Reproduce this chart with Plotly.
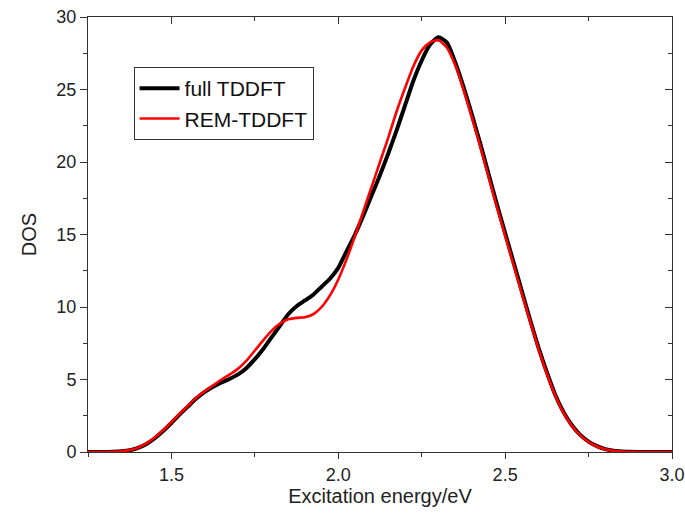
import plotly.graph_objects as go

energy = [1.250, 1.275, 1.300, 1.325, 1.350, 1.375, 1.400, 1.425, 1.450, 1.475,
          1.500, 1.525, 1.550, 1.575, 1.600, 1.625, 1.650, 1.675, 1.700, 1.725,
          1.750, 1.775, 1.800, 1.825, 1.850, 1.875, 1.900, 1.925, 1.950, 1.975,
          2.000, 2.025, 2.050, 2.075, 2.100, 2.125, 2.150, 2.175, 2.200, 2.225,
          2.250, 2.275, 2.300, 2.325, 2.350, 2.375, 2.400, 2.425, 2.450, 2.475,
          2.500, 2.525, 2.550, 2.575, 2.600, 2.625, 2.650, 2.675, 2.700, 2.725,
          2.750, 2.775, 2.800, 2.825, 2.850, 2.875, 2.900, 2.925, 2.950, 2.975, 3.000]

full_tddft = [0, 0, 0, 0.02, 0.05, 0.12, 0.28, 0.55, 0.95, 1.45,
              2.0, 2.6, 3.15, 3.7, 4.15, 4.5, 4.8, 5.05, 5.35, 5.8,
              6.4, 7.1, 7.9, 8.7, 9.5, 10.05, 10.45, 10.85, 11.4, 11.95,
              12.7, 13.85, 15.0, 16.3, 17.7, 19.1, 20.6, 22.2, 23.9, 25.6,
              27.0, 28.1, 28.6, 28.25, 26.9, 25.2, 23.3, 21.3, 19.2, 17.1,
              15.1, 13.1, 11.1, 9.1, 7.2, 5.5, 3.95, 2.75, 1.85, 1.18,
              0.72, 0.4, 0.2, 0.09, 0.04, 0.01, 0, 0, 0, 0, 0]

rem_tddft = [0, 0, 0, 0.02, 0.05, 0.13, 0.3, 0.6, 1.0, 1.5,
             2.05, 2.65, 3.2, 3.75, 4.2, 4.6, 5.0, 5.35, 5.75, 6.3,
             7.0, 7.7, 8.35, 8.85, 9.15, 9.25, 9.3, 9.5, 10.0, 10.8,
             11.9, 13.3, 14.9, 16.6, 18.3, 20.0, 21.7, 23.5, 25.1, 26.6,
             27.7, 28.25, 28.4, 27.9, 26.7, 25.0, 23.1, 21.1, 19.0, 16.9,
             14.9, 12.9, 10.9, 9.0, 7.1, 5.4, 3.9, 2.7, 1.8, 1.15,
             0.7, 0.38, 0.19, 0.08, 0.03, 0.01, 0, 0, 0, 0, 0]

x_ticks = [1.5, 2.0, 2.5, 3.0]
x_tick_labels = ["1.5", "2.0", "2.5", "3.0"]
y_ticks = [0, 5, 10, 15, 20, 25, 30]

font = "Liberation Sans, Arial, sans-serif"
axcol = "#333333"

fig = go.Figure()
fig.add_trace(go.Scatter(x=energy, y=full_tddft, mode="lines", name="full TDDFT",
                         line=dict(color="black", width=4, shape="spline", smoothing=0.6)))
fig.add_trace(go.Scatter(x=energy, y=rem_tddft, mode="lines", name="REM-TDDFT",
                         line=dict(color="#ff0000", width=2.6, shape="spline", smoothing=0.6)))
# dummy trace to activate the mirrored top/right axes
fig.add_trace(go.Scatter(x=[], y=[], xaxis="x2", yaxis="y2", showlegend=False, hoverinfo="skip"))

common = dict(showline=True, linecolor=axcol, linewidth=1, showgrid=False,
              zeroline=False, automargin=False)

fig.update_layout(
    width=685, height=523,
    margin=dict(l=88, r=13, t=17, b=71),
    paper_bgcolor="white", plot_bgcolor="white",
    font=dict(family=font, size=18, color="#222222"),
    showlegend=True,
    legend=dict(x=0.078, y=0.885, xanchor="left", yanchor="top",
                bgcolor="white", bordercolor=axcol, borderwidth=1,
                font=dict(size=21, color="#111111"),
                tracegroupgap=0, itemwidth=40),
    xaxis=dict(range=[1.25, 3.0], tickvals=x_ticks, ticktext=x_tick_labels,
               ticks="outside", ticklen=6, tickwidth=1, tickcolor=axcol,
               minor=dict(dtick=0.25, tick0=1.25, ticks="outside", ticklen=4, tickcolor=axcol),
               title=dict(text="Excitation energy/eV", font=dict(size=20), standoff=0),
               **common),
    yaxis=dict(range=[0, 30], tickvals=y_ticks,
               ticks="outside", ticklen=7, tickwidth=1, tickcolor=axcol,
               minor=dict(dtick=2.5, tick0=0, ticks="outside", ticklen=4, tickcolor=axcol),
               title=dict(text="DOS", font=dict(size=20), standoff=14),
               **common),
    xaxis2=dict(range=[1.25, 3.0], overlaying="x", side="top", anchor="y2",
                tickvals=x_ticks, showticklabels=False,
                ticks="inside", ticklen=7, tickwidth=1, tickcolor=axcol,
                minor=dict(dtick=0.25, tick0=1.25, ticks="inside", ticklen=4, tickcolor=axcol),
                **common),
    yaxis2=dict(range=[0, 30], overlaying="y", side="right", anchor="x2",
                tickvals=y_ticks, showticklabels=False,
                ticks="inside", ticklen=7, tickwidth=1, tickcolor=axcol,
                minor=dict(dtick=2.5, tick0=0, ticks="inside", ticklen=4, tickcolor=axcol),
                **common),
)

fig.write_html("out.html", config={"displayModeBar": False},
               post_script="document.body.style.margin='0';")
